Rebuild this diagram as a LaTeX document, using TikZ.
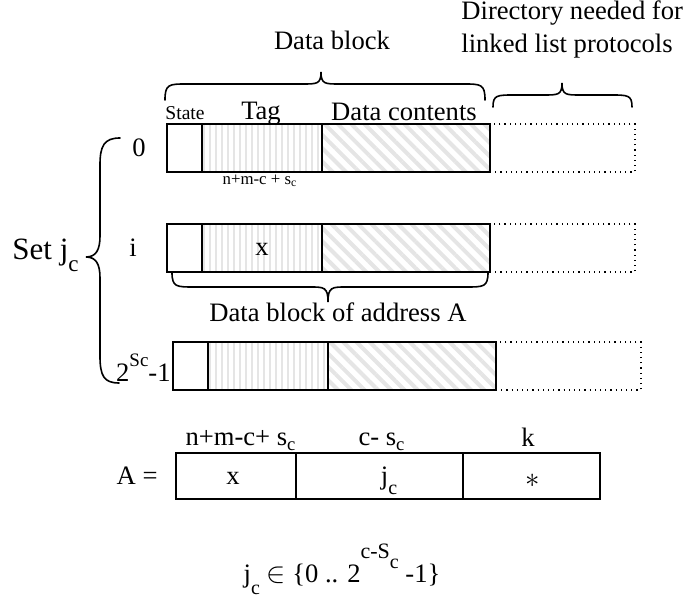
\documentclass[tikz,border=0pt]{standalone}
\usepackage{fontspec}
\setmainfont{Liberation Serif}
\usetikzlibrary{patterns.meta}

% font sizes used in the figure
\newcommand\fsmain{\fontsize{13.3}{15}\selectfont}
\newcommand\fsset{\fontsize{15.5}{17}\selectfont}
\newcommand\fsstate{\fontsize{9.8}{11}\selectfont}
\newcommand\fstiny{\fontsize{8.4}{10}\selectfont}
\newcommand\fsscript{\fontsize{10}{10}\selectfont}
% lowered subscript "c"
\newcommand\lowc[1]{\raisebox{-#1}{\fsscript c}}

% curly brace drawn horizontally: x1, x2, end y, bar y, tip x, tip y
\newcommand\hbrace[6]{%
  \draw[bracepen] (#1,#3) .. controls (#1,#4) and (#1+4,#4) .. (#1+22,#4)
    -- (#5-18,#4) .. controls (#5-4,#4) and (#5,#4) .. (#5,#6)
    .. controls (#5,#4) and (#5+4,#4) .. (#5+18,#4)
    -- (#2-22,#4) .. controls (#2-4,#4) and (#2,#4) .. (#2,#3);}

\tikzset{
  frame/.style={draw, line width=1pt, inner sep=0pt, outer sep=0pt,
    anchor=north west, minimum height=24pt},
  statecell/.style={frame, minimum width=17.5pt},
  tagcell/.style={frame, minimum width=60pt,
    pattern={Lines[angle=90,distance=3pt,line width=1.4pt]}, pattern color=black!10},
  datacell/.style={frame, minimum width=84pt,
    pattern={Lines[angle=-45,distance=4.7pt,line width=2pt]}, pattern color=black!10},
  dircell/.style={draw, dotted, line width=0.6pt, inner sep=0pt, outer sep=0pt,
    anchor=north west, minimum height=24pt, minimum width=72.5pt},
  addrcell/.style={frame, minimum height=23pt},
  bracepen/.style={line width=0.8pt, line cap=round},
  txt/.style={inner sep=0pt, anchor=base},
}

% one line of the set: state, tag, data contents, directory
\newcommand\cacherow[3]{%
  \node[statecell] (#1s) at (#2,#3) {};
  \node[tagcell] (#1t) at (#1s.north east) {};
  \node[datacell] (#1c) at (#1t.north east) {};
  \node[dircell] (#1d) at (#1c.north east) {};}

\begin{document}
\begin{tikzpicture}[x=0.5pt, y=-0.5pt, font=\fsmain]
\useasboundingbox (0,0) rectangle (687,597);

% top labels and braces
\node[txt] (dblabel) at (332,50) {Data block};
\node[txt, anchor=base west] (dirA) at (461,20) {Directory needed for};
\node[txt, anchor=base west] (dirB) at (461,53) {linked list protocols};
\hbrace{165}{485}{100}{84}{321}{72}
\hbrace{493}{632}{107}{95}{562}{83}

% the lines of set j_c
\cacherow{r0}{167}{124}
\cacherow{ri}{167}{224}
\cacherow{rl}{173}{342}

\node[txt, font=\fsstate] (statelabel) at (185,120) {State};
\node[txt] (taglabel) at (261,120) {Tag};
\node[txt] (datalabel) at (404,121) {Data contents};
\node[txt, font=\fstiny] (taglen) at (260,185) {n+m-c + s\textsubscript{c}};
\node[txt] (xtag) at (262,256) {x};

\node[txt] (l0) at (139,157) {0};
\node[txt] (li) at (133,257) {i};
\node[txt, anchor=base east] (ll) at (171,382)
  {2\raisebox{7.5pt}{\fontsize{9.5}{9.5}\selectfont Sc}-1};

% brace of the whole set
\draw[bracepen] (120,138) .. controls (104,138) and (100,146) .. (100,165)
  -- (100,236) .. controls (100,250) and (96,257) .. (86,257)
  .. controls (96,257) and (100,264) .. (100,278)
  -- (100,356) .. controls (100,376) and (104,383) .. (119,383);
\node[txt, anchor=base west, font=\fsset] (setlabel) at (12,260)
  {Set j\raisebox{-6pt}{\fontsize{11.5}{11.5}\selectfont c}};

% brace under the addressed block
\hbrace{172}{488}{272}{287}{328}{302}
\node[txt] (blockA) at (338,322) {Data block of address A};

% address fields
\node[addrcell, minimum width=60pt] (ax) at (176,453) {};
\node[addrcell, minimum width=83.5pt] (aj) at (ax.north east) {};
\node[addrcell, minimum width=68.5pt] (ak) at (aj.north east) {};
\node[txt] (xval) at (233,485) {x};
\node[txt] (jval) at (389,485) {j\lowc{5pt}};
\node (kval) at (533,481) {$\ast$};
\node[txt, anchor=base east] (Aeq) at (158,485) {A =};
\node[txt] (wx) at (241,446) {n+m-c+ s\textsubscript{c}};
\node[txt] (wj) at (382,446) {c- s\textsubscript{c}};
\node[txt] (wk) at (528,447) {k};

% range of the set index
\node[txt] (range) at (342,583)
  {j\lowc{6pt} $\in$ \{0 .. 2\raisebox{12pt}{\fontsize{11}{11}\selectfont c-S\raisebox{-5pt}{\fsscript c}} -1\}};
\end{tikzpicture}
\end{document}
